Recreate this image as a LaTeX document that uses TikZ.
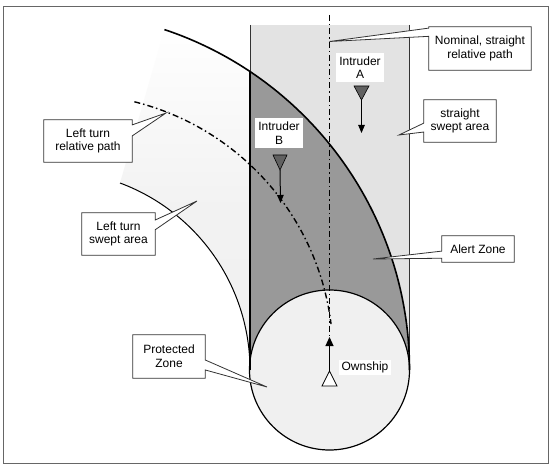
\documentclass[tikz,border=0pt]{standalone}
\usepackage{fontspec}
\setmainfont{Liberation Sans}
\usetikzlibrary{calc,arrows.meta,fadings}
\tikzfading[name=fadetopleft, top color=transparent!100, bottom color=transparent!0, middle color=transparent!20]
\tikzset{
  lbl/.style={font=\fontsize{12}{13.6}\selectfont, align=center, inner sep=0pt},
  cshape/.style={inner sep=0pt, draw=none},
  coutline/.style={draw=black!80, line width=0.8pt, fill=white, line join=miter},
  wbox/.style={lbl, fill=white},
  dashdot/.style={line width=1.4pt, dash pattern=on 6pt off 3pt on 1.5pt off 3pt},
  intr/.style={draw=black, line width=0.6pt, fill=black!62},
  arr/.style={line width=1pt, -{Triangle[length=8pt,width=6.5pt]}},
}
\newcommand\calloutL[4]{%
  \draw[coutline] (#1.north west) -- (#1.north east) -- (#1.south east) -- (#1.south west)
    -- ($(#1.north west)!#3!(#1.south west)$) -- (#4) -- ($(#1.north west)!#2!(#1.south west)$) -- cycle;}
\newcommand\calloutR[4]{%
  \draw[coutline] (#1.north east) -- (#1.north west) -- (#1.south west) -- (#1.south east)
    -- ($(#1.north east)!#3!(#1.south east)$) -- (#4) -- ($(#1.north east)!#2!(#1.south east)$) -- cycle;}
\begin{document}
\begin{tikzpicture}[x=1pt,y=1pt]
\useasboundingbox (0,0) rectangle (551,466);
\fill[white] (0,0) rectangle (551,466);
\draw[black!60, line width=0.8pt] (3,3) rectangle (548,460);

\coordinate (C) at (50.5,96);
\coordinate (P) at (329.5,96);
\coordinate (D) at (71,110);

% left turn swept area
\fill[black!6, path fading=fadetopleft] ($(C)+(0:359)$) arc[start angle=0,end angle=71.5,radius=359]
   -- ($(C)+(69.6:199.5)$) arc[start angle=69.6,end angle=0,radius=199.5] -- cycle;
% straight swept area
\fill[black!11] (250,96) rectangle (409.5,441);
% alert zone
\begin{scope}
  \clip (250,96) rectangle (409.5,441);
  \fill[black!40] (C) circle (359);
\end{scope}
% protected zone
\fill[black!6] (P) circle (80);

% outlines
\draw[black!80, line width=0.7pt] (250,441) -- (250,394.5);
\draw[black, line width=1.4pt] (250,394.5) -- (250,96);
\draw[black!80, line width=0.7pt] (409.5,441) -- (409.5,96);
\draw[black, line width=1.6pt] ($(C)+(0:359)$) arc[start angle=0,end angle=71.5,radius=359];
\draw[black, line width=1pt] ($(C)+(0:199.5)$) arc[start angle=0,end angle=69.6,radius=199.5];
\draw[black, line width=1.2pt] (P) circle (80);

% relative paths
\draw[dashdot] ($(D)+(76:262)$) arc[start angle=76,end angle=7,radius=262];
\coordinate (ntop) at (329.5,451);
\coordinate (nbot) at (329.5,130);
\draw[dashdot] (ntop) -- (nbot);

% ownship
\coordinate (oa) at (322,80); \coordinate (ob) at (337,80); \coordinate (oc) at (329.5,95);
\coordinate (otip) at (329.5,129);
\draw[line width=1.1pt, -{Triangle[length=9pt,width=8pt]}] (oc) -- (otip);
\draw[black, line width=0.8pt, fill=white] (oa) -- (ob) -- (oc) -- cycle;
\node[wbox, minimum width=52pt, minimum height=15pt] (own) at (365,98.5) {Ownship};

% intruder A
\coordinate (aa) at (354,380); \coordinate (ab) at (369,380); \coordinate (ac) at (361.5,366);
\coordinate (atip) at (361.5,333);
\draw[arr] (ac) -- (atip);
\draw[intr] (aa) -- (ab) -- (ac) -- cycle;
\node[wbox, minimum width=48pt, minimum height=29pt] (ia) at (360,398.5) {Intruder\\A};

% intruder B
\coordinate (ba) at (273,311); \coordinate (bb) at (287,311); \coordinate (bc) at (280,296);
\coordinate (btip) at (280.5,263);
\draw[arr] (bc) -- (btip);
\draw[intr] (ba) -- (bb) -- (bc) -- cycle;
\node[wbox, minimum width=48pt, minimum height=30pt] (ib) at (279,333) {Intruder\\B};

% callouts
\coordinate (tnom) at (329.5,424.5);
\node[cshape, minimum width=102pt, minimum height=43pt] (nom) at (480,417.5) {};
\calloutL{nom}{0.03}{0.22}{tnom}
\node[lbl] (nomt) at (nom) {Nominal, straight\\relative path};

\coordinate (tssa) at (399,331);
\node[cshape, minimum width=72pt, minimum height=42pt] (ssa) at (460,345) {};
\calloutL{ssa}{0.55}{0.76}{tssa}
\node[lbl] (ssat) at (ssa) {straight\\swept area};

\coordinate (taz) at (373,207);
\node[cshape, minimum width=72pt, minimum height=26pt] (az) at (478,217) {};
\calloutL{az}{0.58}{0.85}{taz}
\node[lbl] (azt) at (az) {Alert Zone};

\coordinate (tltrp) at (166,353);
\node[cshape, minimum width=88pt, minimum height=42pt] (ltrp) at (88,325) {};
\calloutR{ltrp}{0.12}{0.38}{tltrp}
\node[lbl] (ltrpt) at (ltrp) {Left turn\\relative path};

\coordinate (tltsa) at (197,265);
\node[cshape, minimum width=73pt, minimum height=42pt] (ltsa) at (118.5,232) {};
\calloutR{ltsa}{0.17}{0.40}{tltsa}
\node[lbl] (ltsat) at (ltsa) {Left turn\\swept area};

\coordinate (tpz) at (267,79);
\node[cshape, minimum width=72pt, minimum height=43pt] (pz) at (169,109.5) {};
\calloutR{pz}{0.58}{0.81}{tpz}
\node[lbl] (pzt) at (pz) {Protected\\Zone};
\end{tikzpicture}
\end{document}
